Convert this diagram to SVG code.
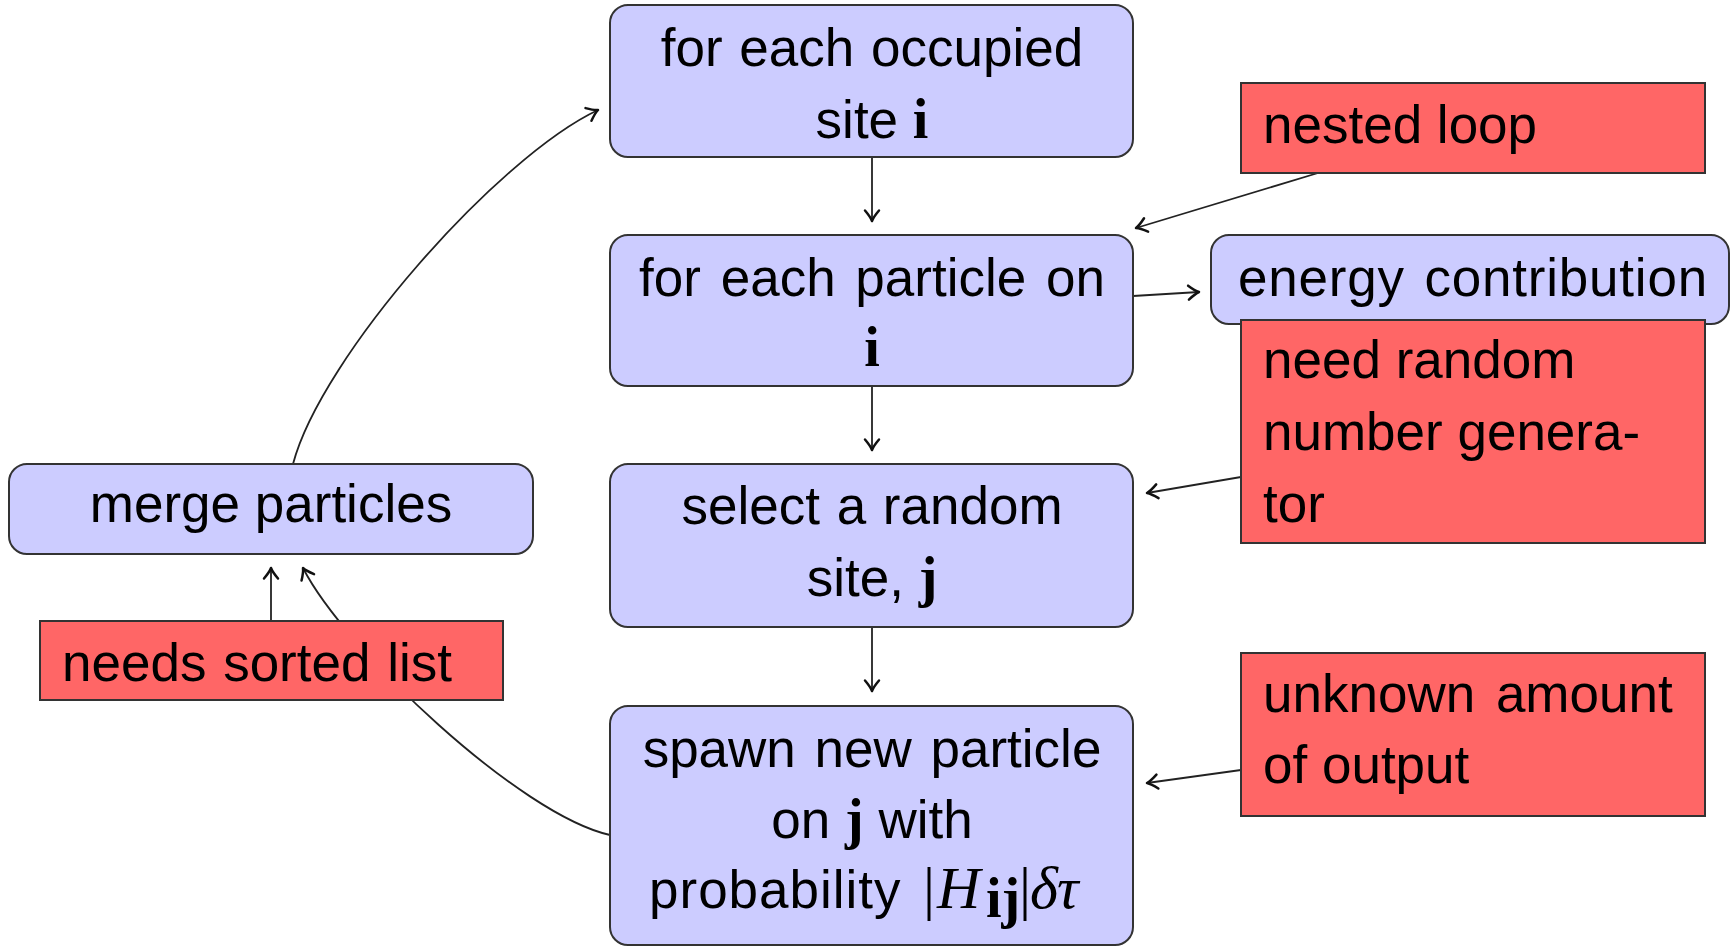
<svg xmlns="http://www.w3.org/2000/svg" width="1730" height="951" viewBox="0 0 1730 951">
<style>
.blue{fill:#ccccff;stroke:#333;stroke-width:2}
.red{fill:#ff6666;stroke:#333;stroke-width:2}
.t{font-family:"Liberation Sans",Arial,sans-serif;font-size:53px;fill:#000}
.mb{font-family:"Liberation Serif","DejaVu Serif",serif;font-weight:bold;font-size:56px}
.mi{font-family:"Liberation Serif","DejaVu Serif",serif;font-style:italic;font-size:60px}
.mr{font-family:"Liberation Serif","DejaVu Serif",serif;font-size:60px}
.c{stroke:#222;stroke-width:1.8;fill:none}
.a{marker-end:url(#ah)}
</style>
<defs>
<marker id="ah" markerWidth="16" markerHeight="18" viewBox="-13 -9 16 18" refX="0" refY="0" orient="auto" markerUnits="userSpaceOnUse">
<path d="M-10.5,-7 Q-4,-1.5 0,0 Q-4,1.5 -10.5,7" fill="none" stroke="#111" stroke-width="2.5" stroke-linecap="round" stroke-linejoin="round"/>
</marker>
</defs>
<g id="connectors">
<path class="c a" d="M872,157 L872,221"/>
<path class="c a" d="M872,386 L872,450"/>
<path class="c a" d="M872,627 L872,691"/>
<path class="c a" d="M1133,296 L1199,292"/>
<path class="c a" d="M1318,173 L1136,228"/>
<path class="c a" d="M1241,477 L1147,493"/>
<path class="c a" d="M1241,770 L1147,783"/>
<path class="c a" d="M293,464 C321,357 498,157 598,110"/>
<path class="c a" d="M610,835 C520,815 345,650 303,568"/>
<path class="c a" d="M271,621 L271,568"/>
</g>
<g id="box1">
<rect class="blue" x="610" y="5" width="523" height="152" rx="18"/>
<text class="t" x="872" y="66" text-anchor="middle" word-spacing="2">for each occupied</text>
<text class="t" x="872" y="138" text-anchor="middle">site <tspan class="mb">i</tspan></text>
</g>
<g id="box2">
<rect class="blue" x="610" y="235" width="523" height="151" rx="18"/>
<text class="t" x="872" y="296" text-anchor="middle" word-spacing="5">for each particle on</text>
<text class="mb" x="872" y="366" text-anchor="middle">i</text>
</g>
<g id="box3">
<rect class="blue" x="610" y="464" width="523" height="163" rx="18"/>
<text class="t" x="872" y="524" text-anchor="middle" word-spacing="2">select a random</text>
<text class="t" x="872" y="596" text-anchor="middle">site, <tspan class="mb">j</tspan></text>
</g>
<g id="box4">
<rect class="blue" x="610" y="706" width="523" height="239" rx="18"/>
<text class="t" x="872" y="767" text-anchor="middle" word-spacing="4">spawn new particle</text>
<text class="t" x="872" y="838" text-anchor="middle">on <tspan class="mb">j</tspan> with</text>
<text class="t" x="649" y="908" letter-spacing="1">probability<tspan class="mr" x="923" letter-spacing="0">|</tspan><tspan class="mi" x="937" letter-spacing="0">H</tspan><tspan class="mb" font-size="35" x="986" dy="9" letter-spacing="0">ij</tspan><tspan class="mr" x="1019" dy="-9" letter-spacing="0">|</tspan><tspan class="mi" x="1030" letter-spacing="0">δ</tspan><tspan class="mi" x="1057" letter-spacing="0">τ</tspan></text>
</g>
<g id="merge">
<rect class="blue" x="9" y="464" width="524" height="90" rx="18"/>
<text class="t" x="271" y="522" text-anchor="middle">merge particles</text>
</g>
<g id="energy">
<rect class="blue" x="1211" y="235" width="518" height="89" rx="18"/>
<text class="t" x="1238" y="296" word-spacing="4" letter-spacing="0.8">energy contribution</text>
</g>
<g id="nested">
<rect class="red" x="1241" y="83" width="464" height="90"/>
<text class="t" x="1263" y="143">nested loop</text>
</g>
<g id="random">
<rect class="red" x="1241" y="320" width="464" height="223"/>
<text class="t" x="1263" y="378">need random</text>
<text class="t" x="1263" y="450">number genera-</text>
<text class="t" x="1263" y="522">tor</text>
</g>
<g id="unknown">
<rect class="red" x="1241" y="653" width="464" height="163"/>
<text class="t" x="1263" y="712" word-spacing="6">unknown amount</text>
<text class="t" x="1263" y="783">of output</text>
</g>
<g id="sorted">
<rect class="red" x="40" y="621" width="463" height="79"/>
<text class="t" x="62" y="681" word-spacing="2">needs sorted list</text>
</g>
</svg>
